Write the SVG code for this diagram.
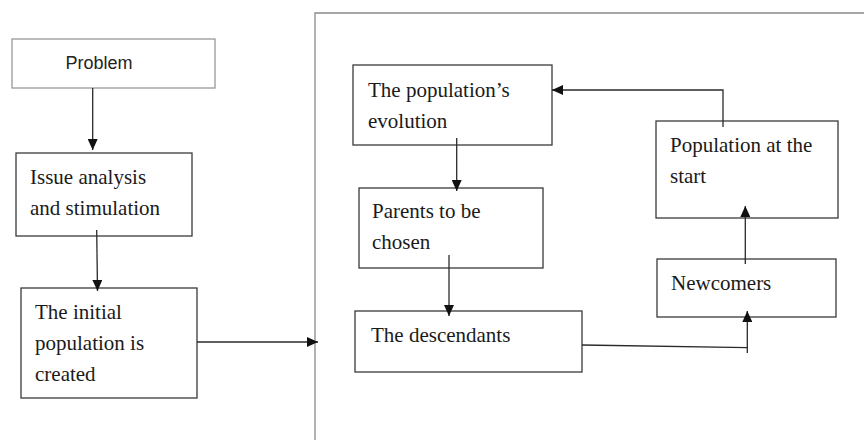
<svg xmlns="http://www.w3.org/2000/svg" width="864" height="444" viewBox="0 0 864 444">
<style>
.box{fill:#fff;stroke:#3a3a3a;stroke-width:1.3}
.gbox{fill:#fff;stroke:#999;stroke-width:1.3}
.t{font-family:"Liberation Serif","Times New Roman",serif;font-size:21px;fill:#1a1a1a}
.s{font-family:"Liberation Sans",Arial,sans-serif;font-size:18px;fill:#222}
.c{fill:none;stroke:#2a2a2a;stroke-width:1.3}
.frame{fill:none;stroke:#8a8a8a;stroke-width:1.3}
</style>
<defs>
<marker id="ah" markerUnits="userSpaceOnUse" markerWidth="12" markerHeight="10" refX="11" refY="5" orient="auto">
<path d="M0,0 L11,5 L0,10 Z" fill="#111"/>
</marker>
</defs>
<rect width="864" height="444" fill="#fff"/>
<path class="frame" d="M315,440 V13 H864"/>
<g id="problem"><rect class="gbox" x="12" y="39" width="203" height="49"/><text class="s" x="99" y="69" text-anchor="middle">Problem</text></g>
<g id="issue"><rect class="box" x="16" y="153" width="176" height="83"/><text class="t" x="30" y="184">Issue analysis</text><text class="t" x="30" y="215">and stimulation</text></g>
<g id="initial"><rect class="box" x="21" y="288" width="176" height="110"/><text class="t" x="35" y="319">The initial</text><text class="t" x="35" y="350">population is</text><text class="t" x="35" y="381">created</text></g>
<g id="evolution"><rect class="box" x="353" y="65" width="199" height="80"/><text class="t" x="368" y="97">The population’s</text><text class="t" x="368" y="128">evolution</text></g>
<g id="parents"><rect class="box" x="359" y="188" width="184" height="80"/><text class="t" x="372" y="218">Parents to be</text><text class="t" x="372" y="249">chosen</text></g>
<g id="descendants"><rect class="box" x="355" y="311" width="227" height="61"/><text class="t" x="371" y="342">The descendants</text></g>
<g id="start"><rect class="box" x="656" y="121" width="182" height="97"/><text class="t" x="670" y="152">Population at the</text><text class="t" x="670" y="183">start</text></g>
<g id="newcomers"><rect class="box" x="657" y="259" width="179" height="58"/><text class="t" x="671" y="290">Newcomers</text></g>
<g id="connectors">
<path class="c" d="M92.7,88 V150" marker-end="url(#ah)"/>
<path class="c" d="M96.7,230 L97.5,291" marker-end="url(#ah)"/>
<path class="c" d="M197,342 H318" marker-end="url(#ah)"/>
<path class="c" d="M723,127 V90 H552" marker-end="url(#ah)"/>
<path class="c" d="M456.7,138 V191" marker-end="url(#ah)"/>
<path class="c" d="M449,255 V316" marker-end="url(#ah)"/>
<path class="c" d="M582,345 L747.3,347.7"/>
<path class="c" d="M747.3,353 V311" marker-end="url(#ah)"/>
<path class="c" d="M745.3,264 V206" marker-end="url(#ah)"/>
</g>
</svg>
